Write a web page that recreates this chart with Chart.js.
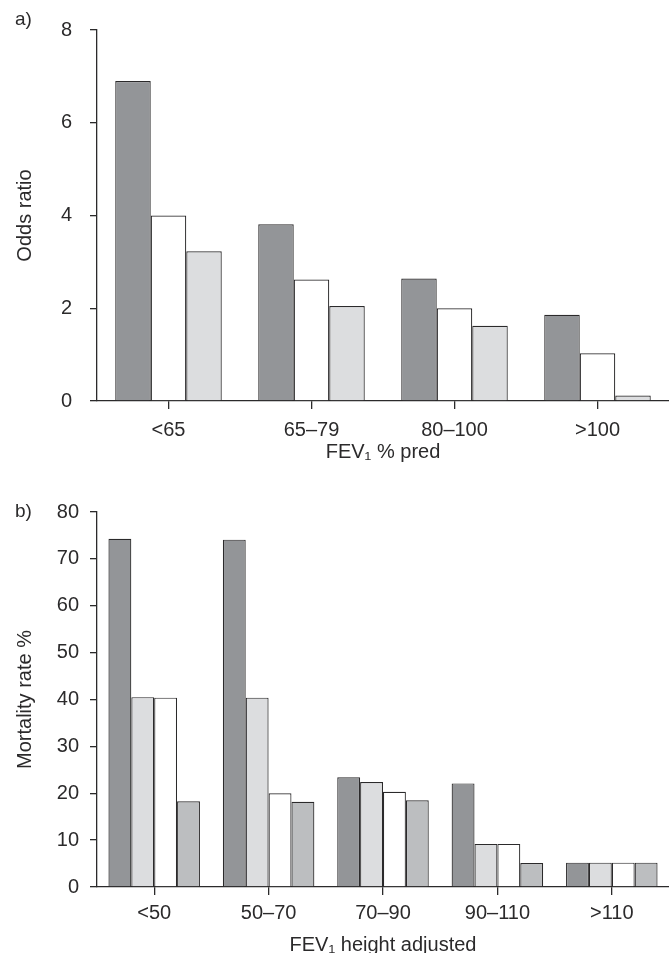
<!DOCTYPE html>
<html>
<head>
<meta charset="utf-8">
<script src="https://cdn.jsdelivr.net/npm/chart.js@4.4.1/dist/chart.umd.min.js"></script>
<style>
  html, body { margin: 0; padding: 0; background: #fff; overflow: hidden; }
  #wrap { position: relative; width: 669px; height: 953px; }
  #chartA { position: absolute; left: 0; top: 0; }
  #chartB { position: absolute; left: 0; top: 470px; }
</style>
</head>
<body>
<div id="wrap">
  <canvas id="chartA" width="669" height="470"></canvas>
  <canvas id="chartB" width="669" height="483"></canvas>
</div>
<script>
// panel a) odds ratio by FEV1 % pred
const catsA = ['<65', '65–79', '80–100', '>100']
const darkA = [6.9, 3.81, 2.64, 1.86]
const whiteA = [4.0, 2.62, 2.0, 1.03]
const lightA = [3.23, 2.05, 1.62, 0.12]
const ticksA = [0, 2, 4, 6, 8]

// panel b) mortality rate by FEV1 height adjusted
const catsB = ['<50', '50–70', '70–90', '90–110', '>110']
const darkB = [74.3, 74.1, 23.4, 22.1, 5.2]
const lightB = [40.5, 40.4, 22.4, 9.2, 5.2]
const whiteB = [40.4, 20.0, 20.3, 9.2, 5.2]
const midB = [18.3, 18.2, 18.5, 5.1, 5.2]
const ticksB = [0, 10, 20, 30, 40, 50, 60, 70, 80]

const ink = '#2b2a2b'
const fontFam = '"Liberation Sans", Arial, Helvetica, sans-serif'
const colDark = '#939598'
const colLight = '#dcdddf'
const colMid = '#bcbec0'

function bar(label, data, color, catPct){
  return {
    label: label,
    data: data,
    backgroundColor: color,
    borderColor: ink,
    borderWidth: 1.2,
    borderSkipped: 'bottom',
    barPercentage: 1,
    categoryPercentage: catPct
  }
}

function panelLabel(text, y){
  return {
    id: 'panelLabel',
    afterDraw(chart){
      const ctx = chart.ctx
      ctx.save()
      ctx.fillStyle = ink
      ctx.font = '19px ' + fontFam
      ctx.textAlign = 'left'
      ctx.textBaseline = 'middle'
      ctx.fillText(text, 15, y)
      ctx.restore()
    }
  }
}

function makeChart(id, cfg){
  return new Chart(id, {
    type: 'bar',
    data: { labels: cfg.cats, datasets: cfg.datasets },
    plugins: [panelLabel(cfg.panel, cfg.panelY)],
    options: {
      responsive: false,
      animation: false,
      layout: { padding: { top: cfg.top, left: 0, right: 0, bottom: 0 } },
      plugins: { legend: { display: false }, tooltip: { enabled: false } },
      scales: {
        x: {
          offset: true,
          grid: { offset: false, drawOnChartArea: false, drawTicks: true, tickLength: 8, color: ink, lineWidth: 1.3 },
          border: { display: true, color: ink, width: 1.3 },
          ticks: { color: ink, font: { family: fontFam, size: 20 }, padding: cfg.xPad, maxRotation: 0 },
          title: { display: true, text: cfg.xTitle, color: ink, font: { family: fontFam, size: 20 }, padding: { top: 0, bottom: cfg.xTitlePad } },
          afterFit: function(scale){ scale.height = cfg.xHeight }
        },
        y: {
          min: cfg.ticks[0],
          max: cfg.ticks[cfg.ticks.length - 1],
          afterBuildTicks: function(scale){ scale.ticks = cfg.ticks.map(v => ({ value: v })) },
          grid: { drawOnChartArea: false, drawTicks: true, tickLength: 7, color: ink, lineWidth: 1.3 },
          border: { display: true, color: ink, width: 1.3 },
          ticks: { color: ink, font: { family: fontFam, size: 20 }, padding: cfg.yPad },
          title: { display: true, text: cfg.yTitle, color: ink, font: { family: fontFam, size: 20 }, padding: { top: 13, bottom: 0 } },
          afterFit: function(scale){ scale.width = 97 }
        }
      }
    }
  })
}

makeChart('chartA', {
  cats: catsA,
  datasets: [
    bar('dark', darkA, colDark, 0.745),
    bar('white', whiteA, '#ffffff', 0.745),
    bar('light', lightA, colLight, 0.745)
  ],
  ticks: ticksA,
  panel: 'a)', panelY: 20,
  top: 22, xHeight: 69, xPad: 9, xTitlePad: 6, yPad: 18,
  xTitle: 'FEV₁ % pred',
  yTitle: 'Odds ratio'
})

makeChart('chartB', {
  cats: catsB,
  datasets: [
    bar('dark', darkB, colDark, 0.8),
    bar('light', lightB, colLight, 0.8),
    bar('white', whiteB, '#ffffff', 0.8),
    bar('mid', midB, colMid, 0.8)
  ],
  ticks: ticksB,
  panel: 'b)', panelY: 42,
  top: 42, xHeight: 66, xPad: 6, xTitlePad: -4, yPad: 11,
  xTitle: 'FEV₁ height adjusted',
  yTitle: 'Mortality rate %'
})
</script>
</body>
</html>
